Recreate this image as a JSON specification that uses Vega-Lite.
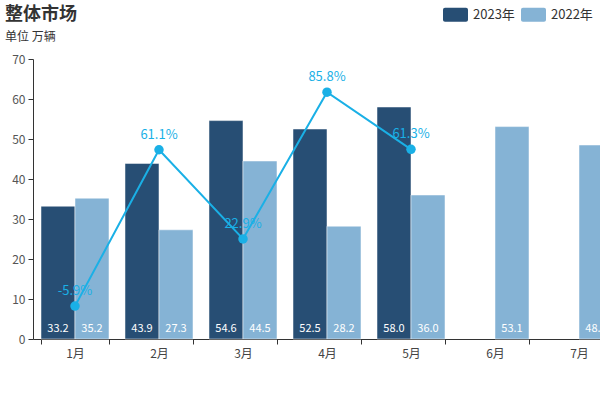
{
  "$schema": "https://vega.github.io/schema/vega-lite/v6.json",
  "autosize": {"type": "none"},
  "padding": {"left": 33, "top": 59, "right": 0, "bottom": 61},
  "width": 567,
  "height": 280,
  "background": "white",
  "config": {
    "font": "Noto Sans CJK SC",
    "locale": {"number": {"decimal": ".", "thousands": ",", "grouping": [3], "currency": ["", ""], "minus": "-"}},
    "view": {"stroke": null},
    "axisY": {
      "labelOverlap": false,
      "labelFlush": false,
      "labelBound": false,
      "grid": false,
      "labelFontSize": 12,
      "labelColor": "#555555",
      "labelPadding": 3,
      "tickSize": 5,
      "tickColor": "#333333",
      "domainColor": "#333333"
    }
  },
  "title": {
    "text": "整体市场",
    "subtitle": "单位 万辆",
    "anchor": "start",
    "frame": "group",
    "dx": -28,
    "dy": 54,
    "fontSize": 18,
    "fontWeight": "bold",
    "color": "#333333",
    "subtitleFontSize": 12,
    "subtitleColor": "#333333",
    "offset": 13,
    "subtitlePadding": 8
  },
  "datasets": {
    "bars": [
      {"month": "1月", "year": "2023年", "value": 33.2},
      {"month": "1月", "year": "2022年", "value": 35.2},
      {"month": "2月", "year": "2023年", "value": 43.9},
      {"month": "2月", "year": "2022年", "value": 27.3},
      {"month": "3月", "year": "2023年", "value": 54.6},
      {"month": "3月", "year": "2022年", "value": 44.5},
      {"month": "4月", "year": "2023年", "value": 52.5},
      {"month": "4月", "year": "2022年", "value": 28.2},
      {"month": "5月", "year": "2023年", "value": 58.0},
      {"month": "5月", "year": "2022年", "value": 36.0},
      {"month": "6月", "year": "2022年", "value": 53.1},
      {"month": "7月", "year": "2022年", "value": 48.5}
    ],
    "growth": [
      {"month": "1月", "growth": -0.059},
      {"month": "2月", "growth": 0.611},
      {"month": "3月", "growth": 0.229},
      {"month": "4月", "growth": 0.858},
      {"month": "5月", "growth": 0.613}
    ]
  },
  "encoding": {
    "x": {
      "field": "month",
      "type": "nominal",
      "sort": ["1月", "2月", "3月", "4月", "5月", "6月", "7月"],
      "scale": {"domain": ["1月", "2月", "3月", "4月", "5月", "6月", "7月"], "range": [0, 588], "paddingInner": 0.1905, "paddingOuter": 0.0952},
      "axis": {
        "title": null,
        "labelAngle": 0,
        "labelFontSize": 12,
        "labelColor": "#444444",
        "labelPadding": 4,
        "tickBand": "extent",
        "tickSize": 5,
        "tickColor": "#333333",
        "domainColor": "#333333",
        "grid": false
      }
    }
  },
  "layer": [
    {
      "data": {"name": "bars"},
      "layer": [
        {
          "mark": {"type": "bar", "stroke": "white", "strokeWidth": 0.5},
          "encoding": {
            "xOffset": {"field": "year", "type": "nominal", "sort": ["2023年", "2022年"], "scale": {"domain": ["2023年", "2022年"], "paddingInner": 0, "paddingOuter": 0}},
            "y": {
              "field": "value",
              "type": "quantitative",
              "scale": {"domain": [0, 70], "nice": false},
              "axis": {"title": null, "values": [0, 10, 20, 30, 40, 50, 60, 70]}
            },
            "color": {
              "field": "year",
              "type": "nominal",
              "scale": {"domain": ["2023年", "2022年"], "range": ["#274e74", "#85b3d5"]},
              "legend": {
                "title": null,
                "orient": "none",
                "legendX": 410,
                "legendY": -57,
                "direction": "horizontal",
                "symbolType": "M-0.84,-0.56H0.84A0.16,0.16 0 0 1 1,-0.4V0.4A0.16,0.16 0 0 1 0.84,0.56H-0.84A0.16,0.16 0 0 1 -1,0.4V-0.4A0.16,0.16 0 0 1 -0.84,-0.56Z",
                "symbolSize": 625,
                "symbolStrokeWidth": 0,
                "labelFontSize": 13,
                "labelColor": "#333333",
                "labelOffset": 5,
                "columnPadding": 6
              }
            }
          }
        },
        {
          "mark": {"type": "text", "color": "white", "fontSize": 11, "dy": -10, "fontWeight": "normal"},
          "encoding": {
            "xOffset": {"field": "year", "type": "nominal", "sort": ["2023年", "2022年"], "scale": {"domain": ["2023年", "2022年"], "paddingInner": 0, "paddingOuter": 0}},
            "y": {"datum": 0, "type": "quantitative", "axis": {"title": null, "values": [0, 10, 20, 30, 40, 50, 60, 70]}},
            "text": {"field": "value", "type": "quantitative", "format": ".1f"}
          }
        }
      ]
    },
    {
      "data": {"name": "growth"},
      "encoding": {
        "y": {"field": "growth", "type": "quantitative", "scale": {"domain": [-0.2, 1.0], "nice": false}, "axis": null}
      },
      "layer": [
        {
          "mark": {"type": "line", "color": "#1ab0e6", "strokeWidth": 2},
          "encoding": {}
        },
        {
          "mark": {"type": "point", "filled": true, "color": "#1ab0e6", "size": 90, "opacity": 1},
          "encoding": {}
        },
        {
          "mark": {"type": "text", "color": "#1ab0e6", "fontSize": 13, "dy": -15},
          "encoding": {
            "text": {"field": "growth", "type": "quantitative", "format": ".1%"}
          }
        }
      ]
    }
  ],
  "resolve": {"scale": {"y": "independent"}}
}
